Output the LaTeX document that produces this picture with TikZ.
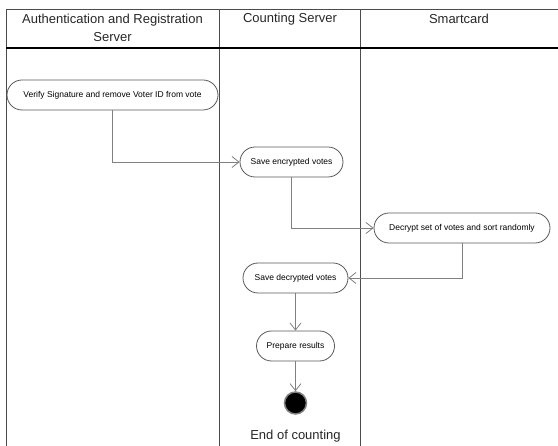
\documentclass[tikz,border=0pt]{standalone}
\usepackage{fontspec}
\setmainfont{Liberation Sans}
\usetikzlibrary{arrows.meta}
\begin{document}
\begin{tikzpicture}[x=1pt,y=-1pt,
  act/.style={draw=black!65, line width=0.8pt, rounded corners=15pt, minimum height=30pt, inner sep=2pt, font=\fontsize{8.5}{10}\selectfont, fill=white},
  flow/.style={draw=black!50, line width=0.8pt, -{Straight Barb[length=7pt,width=11pt]}},
  lane/.style={draw=black!70, line width=1pt},
  head/.style={font=\fontsize{13}{18}\selectfont, align=center, text=black!85}]
\useasboundingbox (0,0) rectangle (558,446);
\draw[lane] (6,446) -- (6,10) -- (558,10);
\draw[lane] (219,10) -- (219,446);
\draw[lane] (360,10) -- (360,446);
\draw[line width=2.5pt] (6,48) -- (558,48);
\node[head] (h1) at (112.5,28) {Authentication and Registration\\Server};
\node[head] (h2) at (290,19) {Counting Server};
\node[head] (h3) at (459,19) {Smartcard};
\node[act, minimum width=211pt] (n1) at (112.5,95) {Verify Signature and remove Voter ID from vote};
\node[act, minimum width=103pt] (n2) at (291.5,162) {Save encrypted votes};
\node[act, minimum width=176pt] (n3) at (462,228) {Decrypt set of votes and sort randomly};
\node[act, minimum width=105pt] (n4) at (295.5,278) {Save decrypted votes};
\node[act, minimum width=78pt] (n5) at (295.5,346) {Prepare results};
\node[circle, fill=black, draw=black!50, line width=1.5pt, minimum size=22pt, inner sep=0pt] (end) at (295.5,403) {};
\node[font=\fontsize{13}{15}\selectfont, text=black!85] (endl) at (295.5,436) {End of counting};
\draw[flow] (n1.south) |- (n2.west);
\draw[flow] (n2.south) |- (n3.west);
\draw[flow] (n3.south) |- (n4.east);
\draw[flow] (n4.south) -- (n5.north);
\draw[flow] (n5.south) -- (end.north);
\end{tikzpicture}
\end{document}
